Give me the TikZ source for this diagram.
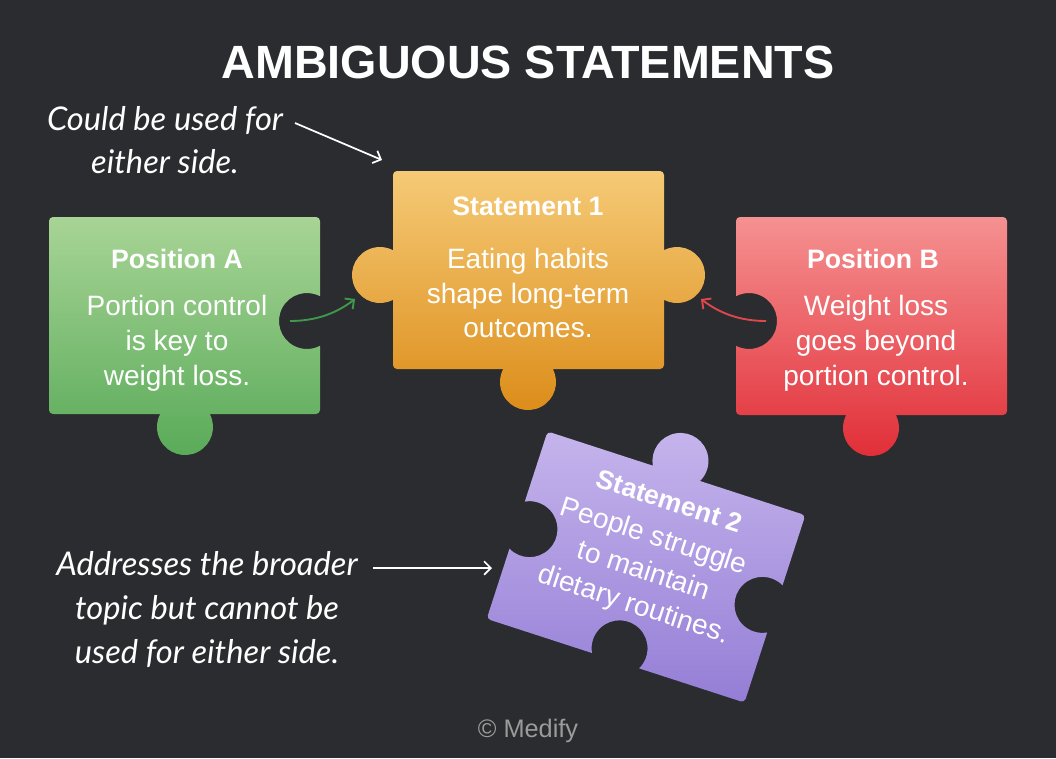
\documentclass[tikz,border=0pt]{standalone}
\usepackage{fontspec}
\setmainfont{Liberation Sans}
\newfontfamily\hand{Lato}
\usetikzlibrary{arrows.meta}
\definecolor{bg}{RGB}{43,44,47}
\definecolor{gA1}{RGB}{168,212,150}
\definecolor{gA2}{RGB}{88,170,88}
\definecolor{or1}{RGB}{245,202,118}
\definecolor{or2}{RGB}{220,140,25}
\definecolor{rd1}{RGB}{245,145,145}
\definecolor{rd2}{RGB}{225,45,55}
\definecolor{pu1}{RGB}{197,180,236}
\definecolor{pu2}{RGB}{148,126,214}
\definecolor{garr}{RGB}{62,154,74}
\definecolor{rarr}{RGB}{224,71,76}
\definecolor{cpy}{RGB}{155,155,155}
\tikzset{
  head/.style={text=white, font={\fontsize{20}{24}\selectfont\bfseries}, anchor=base, inner sep=0pt},
  body/.style={text=white, font={\fontsize{21}{26}\selectfont}, anchor=base, inner sep=0pt},
  note/.style={text=white, font={\hand\itshape\fontsize{24.5}{33}\selectfont}, anchor=base, inner sep=0pt},
  notearrow/.style={draw=white, line width=1.3pt, -{Straight Barb[length=5pt,width=10pt]}},
  linkarrow/.style={line width=1.4pt, -{Straight Barb[length=5pt,width=10pt]}}
}
\begin{document}
\begin{tikzpicture}[x=0.75pt,y=0.75pt,yscale=-1]
\fill[bg] (0,0) rectangle (1056,758);
\useasboundingbox (0,0) rectangle (1056,758);

% title
\node[text=white, font={\fontsize{35}{40}\selectfont\bfseries}, anchor=base, inner sep=0pt] (title) at (528,78) {AMBIGUOUS STATEMENTS};

% Position A piece
\shade[top color=gA1, bottom color=gA2] (53,217) -- (316,217) arc[start angle=-90,end angle=0,radius=4]
  -- (320,296.2) arc[start angle=-62.3,end angle=-297.7,radius=28]
  -- (320,410) arc[start angle=0,end angle=90,radius=4]
  -- (209.8,414) arc[start angle=-27.7,end angle=207.7,radius=28]
  -- (53,414) arc[start angle=90,end angle=180,radius=4]
  -- (49,221) arc[start angle=180,end angle=270,radius=4] -- cycle;
\node[head] (ha) at (177,268) {Position A};
\node[body] (a1) at (177,315) {Portion control};
\node[body] (a2) at (177,350) {is key to};
\node[body] (a3) at (177,385) {weight loss.};

% Statement 1 piece
\shade[top color=or1, bottom color=or2] (397,171) -- (660,171) arc[start angle=-90,end angle=0,radius=4]
  -- (664,250.2) arc[start angle=-117.7,end angle=117.7,radius=28]
  -- (664,365) arc[start angle=0,end angle=90,radius=4]
  -- (552.8,369) arc[start angle=-27.7,end angle=207.7,radius=28]
  -- (397,369) arc[start angle=90,end angle=180,radius=4]
  -- (393,299.8) arc[start angle=62.3,end angle=297.7,radius=28]
  -- (393,175) arc[start angle=180,end angle=270,radius=4] -- cycle;
\node[head] (h1) at (528,215) {Statement 1};
\node[body] (s1) at (528,268) {Eating habits};
\node[body] (s2) at (528,303) {shape long-term};
\node[body] (s3) at (528,337) {outcomes.};

% Position B piece
\shade[top color=rd1, bottom color=rd2] (740,217) -- (1003,217) arc[start angle=-90,end angle=0,radius=4]
  -- (1007,411) arc[start angle=0,end angle=90,radius=4]
  -- (895.8,415) arc[start angle=-27.7,end angle=207.7,radius=28]
  -- (740,415) arc[start angle=90,end angle=180,radius=4]
  -- (736,345.8) arc[start angle=117.7,end angle=-117.7,radius=28]
  -- (736,221) arc[start angle=180,end angle=270,radius=4] -- cycle;
\node[head] (hb) at (873,268) {Position B};
\node[body] (b1) at (876,315) {Weight loss};
\node[body] (b2) at (876,350) {goes beyond};
\node[body] (b3) at (876,385) {portion control.};

% Statement 2 piece (rotated)
\begin{scope}[shift={(646,567)},rotate=18]
\shade[top color=pu1, bottom color=pu2] (-131.5,-98.5) -- (-24.8,-98.5) arc[start angle=-207.7,end angle=27.7,radius=28]
  -- (131.5,-98.5) arc[start angle=-90,end angle=0,radius=4]
  -- (135.5,-24.8) arc[start angle=-62.3,end angle=-297.7,radius=28]
  -- (135.5,94.5) arc[start angle=0,end angle=90,radius=4]
  -- (24.8,98.5) arc[start angle=27.7,end angle=-207.7,radius=28]
  -- (-131.5,98.5) arc[start angle=90,end angle=180,radius=4]
  -- (-135.5,24.8) arc[start angle=117.7,end angle=-117.7,radius=28]
  -- (-135.5,-94.5) arc[start angle=180,end angle=270,radius=4] -- cycle;
\node[head, rotate=-18] (h2) at (2,-61) {Statement 2};
\node[body, rotate=-18] (p1) at (-2,-23) {People struggle};
\node[body, rotate=-18] (p2) at (-1,13) {to maintain};
\node[body, rotate=-18] (p3) at (0,48) {dietary routines.};
\end{scope}

% link arrows
\coordinate (ga) at (290,321);
\coordinate (gb) at (355,299);
\draw[linkarrow, garr] (ga) .. controls (318,321) and (338,312) .. (gb);
\coordinate (ra) at (766,321);
\coordinate (rb) at (701,299);
\draw[linkarrow, rarr] (ra) .. controls (738,321) and (718,312) .. (rb);

% annotations
\node[note] (n1a) at (165,130) {Could be used for};
\node[note] (n1b) at (165,173) {either side.};
\coordinate (n1s) at (295,123);
\coordinate (n1e) at (382,160);
\draw[notearrow] (n1s) -- (n1e);

\node[note] (n2a) at (207,575) {Addresses the broader};
\node[note] (n2b) at (207,619) {topic but cannot be};
\node[note] (n2c) at (207,663) {used for either side.};
\coordinate (n2s) at (373,568);
\coordinate (n2e) at (492,568);
\draw[notearrow] (n2s) -- (n2e);

% copyright
\node[text=cpy, font={\fontsize{19}{22}\selectfont}, anchor=base, inner sep=0pt] (copy) at (528,737) {© Medify};
\end{tikzpicture}
\end{document}
